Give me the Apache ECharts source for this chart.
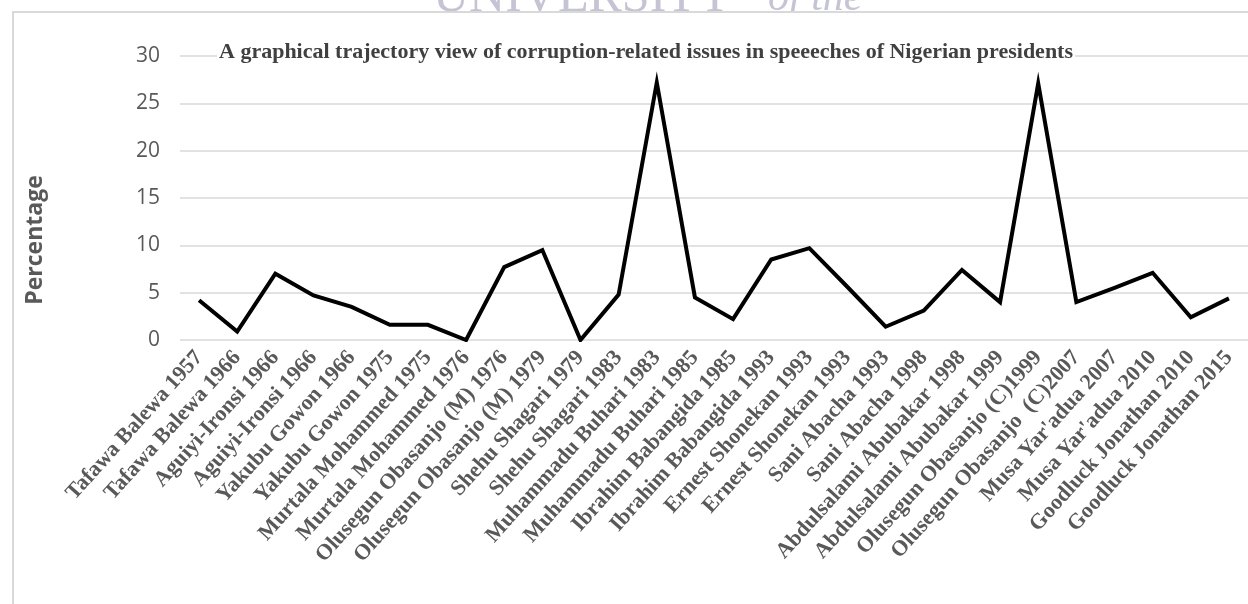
<!DOCTYPE html>
<html>
<head>
<meta charset="utf-8">
<script src="https://cdn.jsdelivr.net/npm/echarts@6/dist/echarts.min.js"></script>
<style>
html,body{margin:0;padding:0;background:#fff;}
#chart{width:1248px;height:604px;}
</style>
</head>
<body>
<div id="chart"></div>
<script>
const categories = [
  "Tafawa Balewa 1957", "Tafawa Balewa 1966", "Aguiyi-Ironsi 1966", "Aguiyi-Ironsi 1966",
  "Yakubu Gowon 1966", "Yakubu Gowon 1975", "Murtala Mohammed 1975", "Murtala Mohammed 1976",
  "Olusegun Obasanjo (M) 1976", "Olusegun Obasanjo (M) 1979", "Shehu Shagari 1979", "Shehu Shagari 1983",
  "Muhammadu Buhari 1983", "Muhammadu Buhari 1985", "Ibrahim Babangida 1985", "Ibrahim Babangida 1993",
  "Ernest Shonekan 1993", "Ernest Shonekan 1993", "Sani Abacha 1993", "Sani Abacha 1998",
  "Abdulsalami Abubakar 1998", "Abdulsalami Abubakar 1999", "Olusegun Obasanjo (C)1999", "Olusegun Obasanjo  (C)2007",
  "Musa Yar'adua 2007", "Musa Yar'adua 2010", "Goodluck Jonathan 2010", "Goodluck Jonathan 2015"
];
const percentages = [
  4.2, 0.9, 7.0, 4.7, 3.5, 1.6, 1.6, 0.0, 7.7, 9.5, 0.0, 4.8, 27.2, 4.5,
  2.2, 8.5, 9.7, 5.6, 1.4, 3.1, 7.4, 4.0, 27.1, 4.0, 5.5, 7.1, 2.4, 4.4
];
const yTicks = [0, 5, 10, 15, 20, 25, 30];
const titleText = "A graphical trajectory view of corruption-related issues in speeeches of Nigerian presidents";
const yAxisName = "Percentage";
const watermarkMain = "UNIVERSITY";
const watermarkTail = "of the";

const chart = echarts.init(document.getElementById('chart'), null, {renderer: 'canvas'});
chart.setOption({
  animation: false,
  backgroundColor: '#ffffff',
  graphic: [
    {type: 'text', x: 433, y: 23, z: -20,
     style: {text: watermarkMain, font: '50px "Liberation Serif"', fill: '#c4c4d4', verticalAlign: 'bottom'}},
    {type: 'text', x: 768, y: 20, z: -20,
     style: {text: watermarkTail, font: 'italic 42px "Liberation Serif"', fill: '#c4c4d4', verticalAlign: 'bottom'}},
    {type: 'rect', shape: {x: 13, y: 12, width: 1260, height: 620}, z: -10,
     style: {fill: '#ffffff', stroke: '#d9d9d9', lineWidth: 2}},
    {type: 'text', x: 35, y: 240, rotation: Math.PI / 2, z: 5,
     style: {text: yAxisName, font: 'bold 23px "Open Sans"', fill: '#595959', align: 'center', verticalAlign: 'middle'}}
  ],
  title: {
    text: titleText,
    left: 217, top: 41,
    backgroundColor: '#ffffff',
    padding: [0, 2],
    textStyle: {fontFamily: '"Liberation Serif"', fontWeight: 'bold', fontSize: 22, color: '#404040'}
  },
  grid: {left: 180, right: -3, top: 56, bottom: 264, containLabel: false},
  xAxis: {
    type: 'category',
    data: categories,
    boundaryGap: true,
    axisLine: {show: false},
    axisTick: {show: false},
    axisLabel: {
      rotate: 48, interval: 0, margin: 14,
      fontFamily: '"Liberation Serif"', fontWeight: 'bold', fontSize: 22, color: '#595959'
    }
  },
  yAxis: {
    type: 'value',
    min: 0, max: 30, interval: 5,
    axisLine: {show: false},
    axisTick: {show: false},
    axisLabel: {margin: 20, fontFamily: '"Open Sans"', fontSize: 21, color: '#595959',
      formatter: v => yTicks.includes(v) ? String(v) : ''},
    splitLine: {lineStyle: {color: '#d9d9d9', width: 1.5}}
  },
  series: [{
    type: 'line',
    data: percentages,
    symbol: 'none',
    lineStyle: {color: '#000000', width: 4, join: 'miter'},
    z: 3
  }]
});
</script>
</body>
</html>
